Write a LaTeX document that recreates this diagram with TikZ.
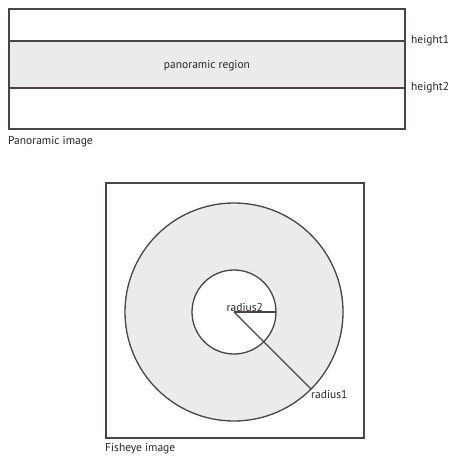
\documentclass[tikz,border=0pt]{standalone}
\usepackage{fontspec}
\setmainfont{PT Sans}
\definecolor{edge}{HTML}{4A4444}
\definecolor{region}{HTML}{EBEBEB}
\tikzset{
  frame/.style={draw=edge, line width=1.3pt},
  lbl/.style={font=\fontsize{11.5}{13}\selectfont, text=black!85, inner sep=1pt},
}
\begin{document}
\begin{tikzpicture}[x=1pt,y=-1pt]
\useasboundingbox (0,0) rectangle (455,456);
% panoramic image: frame with shaded band between the two heights
\fill[region] (9,41) rectangle (405,88);
\draw[frame] (9,9) rectangle (405,129);
\draw[frame] (9,41) -- (405,41);
\draw[frame] (9,88) -- (405,88);
\node[lbl] (pr) at (207,66) {panoramic region};
\node[lbl, anchor=west] (h1) at (410,41) {height1};
\node[lbl, anchor=west] (h2) at (410,88) {height2};
\node[lbl, anchor=west] (pi) at (7,142) {Panoramic image};
% fisheye image: annulus between radius2 and radius1
\coordinate (c) at (234,312);
\draw[frame] (106,183) rectangle (364,438);
\fill[region, even odd rule] (c) circle[radius=109] (c) circle[radius=42];
\draw[frame] (c) circle[radius=109];
\draw[frame] (c) circle[radius=42];
\draw[frame] (c) -- ++(42,0) coordinate (r2end);
\draw[frame] (c) -- ++(77.1,77.1) coordinate (r1end);
\node[lbl, anchor=south west, inner sep=0.5pt] (r2) at (226,312) {radius2};
\node[lbl, anchor=north west] (r1) at (310,389) {radius1};
\node[lbl, anchor=west] (fi) at (104,449) {Fisheye image};
\end{tikzpicture}
\end{document}
